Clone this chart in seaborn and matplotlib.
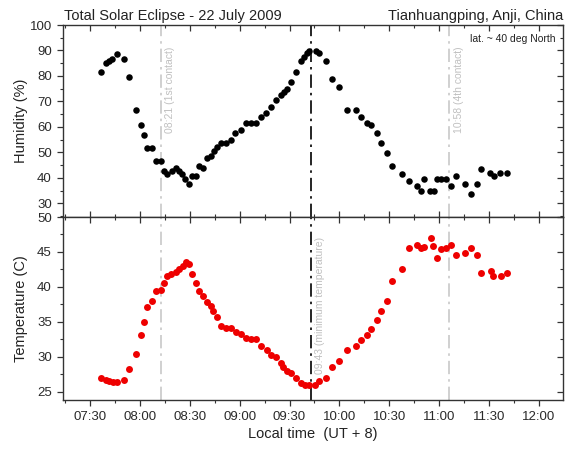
import numpy as np
import pandas as pd
import matplotlib
matplotlib.use("Agg")
import matplotlib.pyplot as plt
import seaborn as sns
from matplotlib.ticker import MultipleLocator, FixedLocator

# ---------------- data ----------------
# times are minutes after midnight (local time, UT+8)
hum_time = [456.4, 459.6, 461.4, 463, 466.4, 470.4, 473.6, 477.7, 480.7, 482.5, 484.5, 487.3,
            489.7, 492.5, 494.5, 496.5, 499.3, 501.7, 503.7, 505.3, 507.3, 509.3, 511.3, 513.7,
            515.7, 517.8, 520.2, 522.6, 524.6, 526.2, 529, 531.8, 534.6, 537.4, 540.6, 543.8,
            546.6, 549.8, 552.6, 555.8, 558.6, 561.8, 564.7, 566.7, 568.6, 570.7, 573.9, 576.7,
            578.7, 580.3, 581.9, 585.9, 587.5, 591.9, 595.5, 599.5, 604.3, 610, 613.1, 616.4,
            619.2, 622.4, 625.2, 628.4, 631.6, 637.6, 641.6, 646.4, 648.9, 650.8, 654.4, 656.9,
            658.5, 661.2, 664.1, 667.3, 670.1, 675.7, 678.9, 682.5, 685.3, 690.5, 692.9, 696.5,
            700.6]
hum_value = [81.7, 85, 86, 86.8, 88.6, 86.7, 79.7, 66.6, 60.6, 56.7, 51.7, 51.7,
             46.6, 46.6, 42.7, 41.5, 42.7, 43.7, 42.7, 41.5, 39.7, 37.6, 40.7, 40.7,
             44.6, 43.7, 47.7, 48.6, 50.7, 52, 53.8, 53.8, 54.8, 57.5, 58.8, 61.6,
             61.6, 61.6, 63.8, 65.6, 67.7, 70.6, 72.6, 73.7, 75, 77.6, 81.7, 85.7,
             87.6, 88.9, 89.9, 89.7, 88.9, 85.7, 78.7, 75.5, 66.6, 66.6, 63.8, 61.6,
             60.6, 57.7, 53.8, 49.6, 44.6, 41.5, 38.6, 36.8, 34.7, 39.7, 34.7, 34.7,
             39.7, 39.7, 39.7, 36.8, 40.7, 37.6, 33.7, 37.6, 43.6, 41.8, 40.7, 41.8,
             41.8]

temp_time = [456.4, 459.6, 461.6, 463.6, 466.4, 470.4, 473.6, 477.7, 480.5, 482.5, 484.5, 487.3,
             489.7, 492.5, 494.5, 496.1, 498.9, 501.7, 503.7, 505.7, 507.7, 509.7, 511.3, 513.7,
             515.7, 517.8, 520.2, 522.6, 524.1, 526.2, 529, 531.8, 535, 537.8, 540.6, 543.8,
             546.6, 549.8, 553, 556.2, 559, 561.8, 564.7, 566.3, 568.7, 570.7, 573.9, 576.7,
             579.5, 581.5, 585.5, 587.5, 591.9, 595.5, 599.5, 604.3, 610, 613.1, 616.4, 619.2,
             622.4, 625.2, 628.4, 631.6, 637.6, 641.6, 646.4, 648.9, 650.8, 654.8, 656.4, 658.5,
             661.2, 664.1, 667.3, 670.1, 675.7, 678.9, 682.5, 684.9, 691, 692.5, 696.9, 700.6]
temp_value = [26.9, 26.7, 26.5, 26.4, 26.4, 26.6, 28.3, 30.4, 33.1, 35.0, 37.1, 38.0,
              39.4, 39.5, 40.6, 41.6, 41.9, 42.1, 42.5, 43.0, 43.5, 43.3, 41.9, 40.6,
              39.4, 38.7, 37.9, 37.2, 36.5, 35.7, 34.4, 34.1, 34.1, 33.5, 33.3, 32.7,
              32.5, 32.5, 31.6, 30.9, 30.2, 29.9, 29.1, 28.5, 27.9, 27.6, 26.9, 26.3,
              26.0, 26.0, 26.0, 26.5, 27.0, 28.5, 29.4, 30.9, 31.5, 32.4, 33.1, 34.0,
              35.2, 36.6, 38.0, 40.9, 42.5, 45.5, 46.0, 45.5, 45.7, 47.0, 45.8, 44.1,
              45.4, 45.5, 46.0, 44.6, 44.9, 45.5, 44.6, 42.0, 42.3, 41.5, 41.5, 42.0]

tick_labels = ["07:30", "08:00", "08:30", "09:00", "09:30", "10:00",
               "10:30", "11:00", "11:30", "12:00"]

# event markers (drawn positions) and their labels
contact_times = [492.5, 665.9]
contact_labels = ["08:21 (1st contact)", "10:58 (4th contact)"]
tmin_time = 582.7
tmin_label = "09:43 (minimum temperature)"

title_left = "Total Solar Eclipse - 22 July 2009"
title_right = "Tianhuangping, Anji, China"
lat_note = "lat. ~ 40 deg North"

# ---------------- plotting ----------------
sns.set_style("ticks")
plt.rcParams['font.family'] = ['Liberation Sans', 'DejaVu Sans']
plt.rcParams['axes.edgecolor'] = '#333333'
plt.rcParams['xtick.color'] = '#333333'
plt.rcParams['ytick.color'] = '#333333'
plt.rcParams['xtick.labelcolor'] = '#2a2a2a'
plt.rcParams['ytick.labelcolor'] = '#2a2a2a'

hum_df = pd.DataFrame({"time": hum_time, "humidity": hum_value})
temp_df = pd.DataFrame({"time": temp_time, "temperature": temp_value})

W, H = 570, 454
fig = plt.figure(figsize=(W / 100, H / 100), dpi=100)
ax1 = fig.add_axes([63 / W, 1 - 217 / H, 500 / W, 192 / H])
ax2 = fig.add_axes([63 / W, 1 - 400 / H, 500 / W, 183 / H])

sns.scatterplot(data=hum_df, x="time", y="humidity", ax=ax1, color="black",
                s=22, linewidth=0, zorder=3)
sns.scatterplot(data=temp_df, x="time", y="temperature", ax=ax2, color="#ee0000",
                s=25, linewidth=0, zorder=3)

grey = "#c8c8c8"
for ax in (ax1, ax2):
    for ct in contact_times:
        ax.axvline(ct, color=grey, lw=1.2, ls=(0, (8, 3, 1.5, 3)), zorder=1)
    ax.axvline(tmin_time, color="black", lw=1.2, ls=(0, (8, 3, 1.5, 3)), zorder=2)

for ct, lab in zip(contact_times, contact_labels):
    ax1.annotate(lab, xy=(ct, 91.5), xytext=(7, 0), textcoords="offset points",
                 rotation=90, ha="center", va="top", fontsize=7.5, color="#c0c0c0")
ax2.annotate(tmin_label, xy=(tmin_time, 47.2), xytext=(7, 0), textcoords="offset points",
             rotation=90, ha="center", va="top", fontsize=7.5, color="#c0c0c0")

def to_min(s):
    h, m = s.split(":")
    return int(h) * 60 + int(m)

tick_pos = [to_min(s) for s in tick_labels]
for ax in (ax1, ax2):
    ax.set_xlim(433.8, 734.4)
    ax.xaxis.set_major_locator(FixedLocator(tick_pos))
    ax.xaxis.set_minor_locator(MultipleLocator(15))
    ax.set_xlabel("")
    for s in ax.spines.values():
        s.set_linewidth(1.0)
        s.set_visible(True)

ax1.set_ylim(24.6, 100)
ax1.yaxis.set_major_locator(FixedLocator([30, 40, 50, 60, 70, 80, 90, 100]))
ax1.yaxis.set_minor_locator(MultipleLocator(5))
ax2.set_ylim(23.8, 50)
ax2.yaxis.set_major_locator(FixedLocator([25, 30, 35, 40, 45, 50]))
ax2.yaxis.set_minor_locator(MultipleLocator(2.5))

ax1.set_xticklabels([])
ax2.set_xticks(tick_pos)
ax2.set_xticklabels(tick_labels)

for ax, bottom_dir in ((ax1, "in"), (ax2, "out")):
    ax.tick_params(axis="y", which="both", left=True, right=False, direction="out", labelsize=9.5)
    ax.tick_params(axis="y", which="major", length=4.5, width=0.9)
    ax.tick_params(axis="y", which="minor", length=2.5, width=0.8)
    ax.tick_params(axis="x", which="both", bottom=True, top=False, direction=bottom_dir,
                   labelsize=9.5)
    ax.tick_params(axis="x", which="major", length=4.5, width=0.9)
    ax.tick_params(axis="x", which="minor", length=2.5, width=0.8)
    # inward ticks on the top and right
    sec = ax.secondary_xaxis("top")
    sec.xaxis.set_major_locator(FixedLocator(tick_pos))
    sec.xaxis.set_minor_locator(MultipleLocator(15))
    sec.tick_params(which="both", direction="in", labeltop=False, color="#333333")
    sec.tick_params(which="major", length=4.5, width=0.9)
    sec.tick_params(which="minor", length=2.5, width=0.8)
    sec.spines["top"].set_visible(False)
    secy = ax.secondary_yaxis("right")
    secy.yaxis.set_major_locator(ax.yaxis.get_major_locator())
    secy.yaxis.set_minor_locator(ax.yaxis.get_minor_locator())
    secy.tick_params(which="both", direction="in", labelright=False, color="#333333")
    secy.tick_params(which="major", length=4.5, width=0.9)
    secy.tick_params(which="minor", length=2.5, width=0.8)
    secy.spines["right"].set_visible(False)

ax1.set_ylabel("Humidity (%)", fontsize=10.5, color="#222222")
ax2.set_ylabel("Temperature (C)", fontsize=10.5, color="#222222")
ax1.yaxis.set_label_coords(-0.07, 0.5)
ax2.yaxis.set_label_coords(-0.07, 0.5)
ax2.set_xlabel("Local time  (UT + 8)", fontsize=10.5, labelpad=3, color="#222222")

ax1.text(0.985, 0.925, lat_note, transform=ax1.transAxes, ha="right", va="center",
         fontsize=7.5, color="#222222",
         bbox=dict(facecolor="white", edgecolor="none", pad=1.0), zorder=5)

fig.text(64 / W, 1 - 20 / H, title_left, ha="left", va="baseline", fontsize=10.5, color="#222222")
fig.text(563 / W, 1 - 20 / H, title_right, ha="right", va="baseline", fontsize=10.5, color="#222222")

fig.savefig("out.png", dpi=100)
